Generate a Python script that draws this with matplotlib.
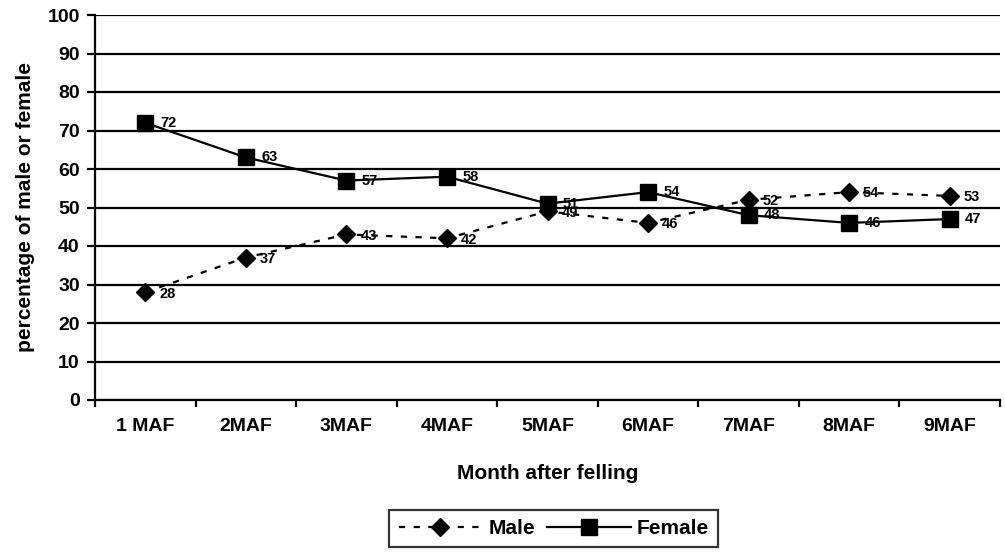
import matplotlib.pyplot as plt
import numpy as np

plt.rcParams['font.family'] = ['Liberation Sans', 'DejaVu Sans']

kategorie = ['1 MAF', '2MAF', '3MAF', '4MAF', '5MAF', '6MAF', '7MAF', '8MAF', '9MAF']
samci = [28, 37, 43, 42, 49, 46, 52, 54, 53]
samice = [72, 63, 57, 58, 51, 54, 48, 46, 47]

x = np.arange(len(kategorie))

fig = plt.figure(figsize=(10.05, 5.52), dpi=100)
ax = fig.add_axes([95/1005, 152/552, 905/1005, 385/552])

ax.set_ylim(0, 100)
ax.set_xlim(-0.5, len(kategorie) - 0.5)
ax.set_yticks(np.arange(0, 101, 10))
ax.yaxis.grid(True, color='black', linewidth=1.6)
ax.set_axisbelow(True)

ax.plot(x, samci, color='black', linestyle=(0, (2.8, 3.8)), linewidth=1.6,
        marker='D', markersize=9, label='Male')
ax.plot(x, samice, color='black', linestyle='-', linewidth=1.6,
        marker='s', markersize=11, label='Female')

# popisky hodnot
for xi, v in zip(x, samci):
    ax.annotate(str(v), (xi, v), xytext=(10, -1), textcoords='offset points',
                fontsize=10.5, fontweight='bold', va='center', ha='left')
for xi, v in zip(x, samice):
    ax.annotate(str(v), (xi, v), xytext=(11, 0), textcoords='offset points',
                fontsize=10.5, fontweight='bold', va='center', ha='left')

ax.set_xticks(x)
ax.set_xticklabels(kategorie, fontsize=14, fontweight='bold')
ax.set_xticks(np.arange(-0.5, len(kategorie)), minor=True)
ax.tick_params(axis='x', which='major', length=0, pad=13)
ax.tick_params(axis='x', which='minor', length=5, width=1.6, direction='out')
ax.tick_params(axis='y', length=6, width=1.6, labelsize=14, pad=5)
for lab in ax.get_yticklabels():
    lab.set_fontweight('bold')

ax.spines['top'].set_visible(False)
ax.spines['right'].set_visible(False)
ax.spines['left'].set_linewidth(1.6)
ax.spines['bottom'].set_linewidth(1.6)

ax.set_xlabel('Month after felling', fontsize=15, fontweight='bold', labelpad=21)
ax.set_ylabel('percentage of male or female', fontsize=15, fontweight='bold', labelpad=9)

leg = ax.legend(loc='upper center', bbox_to_anchor=(0.507, -0.285), ncol=2,
                frameon=True, fancybox=False, edgecolor='black',
                prop={'weight': 'bold', 'size': 15}, handlelength=4,
                columnspacing=0.6, handletextpad=0.3, borderpad=0.45,
                borderaxespad=0)
leg.get_frame().set_linewidth(1.6)

fig.savefig('out.png', dpi=100)
